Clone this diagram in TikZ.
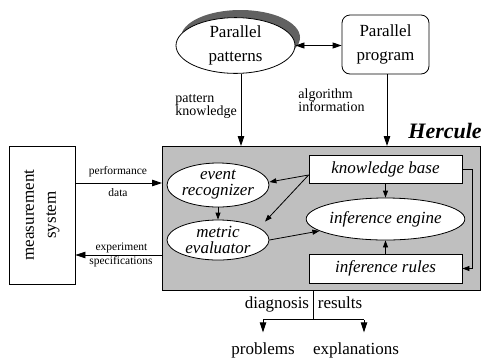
\documentclass[tikz,border=0pt]{standalone}
\usepackage{fontspec}
\setmainfont{Liberation Serif}
\usetikzlibrary{shapes.geometric,arrows.meta,calc}
\definecolor{boxgray}{gray}{0.75}
\definecolor{shadowgray}{gray}{0.38}
\begin{document}
\begin{tikzpicture}[x=1pt,y=-1pt,line width=0.8pt,
  big/.style={-{Triangle[length=10pt,width=6.5pt]}},
  bigboth/.style={{Triangle[length=9pt,width=6pt]}-{Triangle[length=9pt,width=6pt]}},
  small/.style={-{Triangle[length=7pt,width=5pt]}},
  lbl/.style={font=\fontsize{17}{24}\selectfont, align=center},
  itl/.style={font=\fontsize{17}{16}\selectfont\itshape, align=center},
  mid/.style={font=\fontsize{14}{13}\selectfont, align=left},
  sml/.style={font=\fontsize{11.5}{13}\selectfont, inner sep=0},
  whitebox/.style={draw, fill=white, inner sep=0},
  whiteell/.style={ellipse, draw, fill=white, inner sep=0}]
\useasboundingbox (0,0) rectangle (482,360);

% top
\fill[shadowgray] (240.5,37.5) ellipse [x radius=59.5pt, y radius=27.5pt];
\node[whiteell, lbl, minimum width=119pt, minimum height=55pt] (pp) at (235.5,45.5) {Parallel\\patterns};
\node[draw, rounded corners=8pt, inner sep=0, lbl, minimum width=87pt, minimum height=59pt] (prog) at (385.5,44.5) {Parallel\\program};
\draw[bigboth] (pp.east) -- (pp.east -| prog.west);

% Hercules box
\node[draw, fill=boxgray, inner sep=0, minimum width=318pt, minimum height=144pt, anchor=north west] (herc) at (162,146) {};
\node[font=\fontsize{22}{22}\selectfont\bfseries\itshape, anchor=base west, inner sep=0] (title) at (408,138) {Hercule};

\draw[big] ([xshift=5.5pt]pp.south) -- ([xshift=5.5pt]pp.south |- herc.north);
\draw[big] ([xshift=1.5pt]prog.south) -- ([xshift=1.5pt]prog.south |- herc.north);
\node[mid, anchor=west, inner sep=0] (pk) at (175,107) {pattern\\knowledge};
\node[mid, anchor=west, inner sep=0] (ai) at (298,100) {algorithm\\information};

% inside
\node[whitebox, itl, minimum width=153pt, minimum height=28pt] (kb) at (385.5,169) {knowledge base};
\node[whiteell, itl, minimum width=145pt, minimum height=42pt] (engine) at (385.5,219) {inference engine};
\node[whitebox, itl, minimum width=153pt, minimum height=29pt] (rules) at (385.5,268.5) {inference rules};
\node[whiteell, itl, minimum width=102pt, minimum height=44pt] (er) at (218,185) {event\\recognizer};
\node[whiteell, font=\fontsize{17}{15.5}\selectfont\itshape, align=center, minimum width=102pt, minimum height=40pt] (me) at (218,240) {metric\\evaluator};

\draw[small] (er) -- (me);
\coordinate (kbL) at ([yshift=-6pt]kb.west);
\draw[small] (kbL) -- ([yshift=3pt]er.east);
\draw[small] (kbL) -- ([xshift=47pt,yshift=-2pt]me.north);
\draw[small] (me.east) -- (engine);
\draw[small] (kb) -- (engine);
\draw[small] (rules) -- (engine);
\draw[small] (kb.east) -- ++(10,0) |- (rules.east);

% measurement system
\node[draw, inner sep=0, minimum width=66pt, minimum height=138pt] (ms) at (42,215) {};
\node[rotate=90, font=\fontsize{17}{22}\selectfont, align=center] (mslbl) at (ms.center) {measurement\\system};
\draw[big] ([yshift=32pt]ms.east) -- ([yshift=32pt]ms.east -| herc.west);
\node[sml] (perf) at (118,172) {performance};
\node[sml] (data) at (118,193) {data};
\draw[big] ([yshift=-40pt]ms.east -| herc.west) -- ([yshift=-40pt]ms.east);
\node[sml] (expt) at (121.5,248) {experiment};
\node[sml] (spec) at (121,262) {specifications};

% diagnosis
\coordinate (dtop) at ([xshift=-8pt]herc.south);
\coordinate (dsplit) at ([yshift=-29pt]dtop);
\draw (dtop) -- (dsplit);
\node[lbl, anchor=base east, inner sep=0] (diag) at (309.5,308) {diagnosis};
\node[lbl, anchor=base west, inner sep=0] (res) at (317.5,308) {results};
\node[lbl, anchor=base, inner xsep=0, inner ysep=9.4pt] (prob) at (263,354) {problems};
\node[lbl, anchor=base, inner xsep=0, inner ysep=9.4pt] (expl) at (356,354) {explanations};
\coordinate (pl) at (dsplit -| prob.north);
\coordinate (pr) at (364,0 |- dsplit);
\draw (pl) -- (pr);
\draw[big] (pl) -- (pl |- prob.north);
\draw[big] (pr) -- (pr |- expl.north);
\end{tikzpicture}
\end{document}
